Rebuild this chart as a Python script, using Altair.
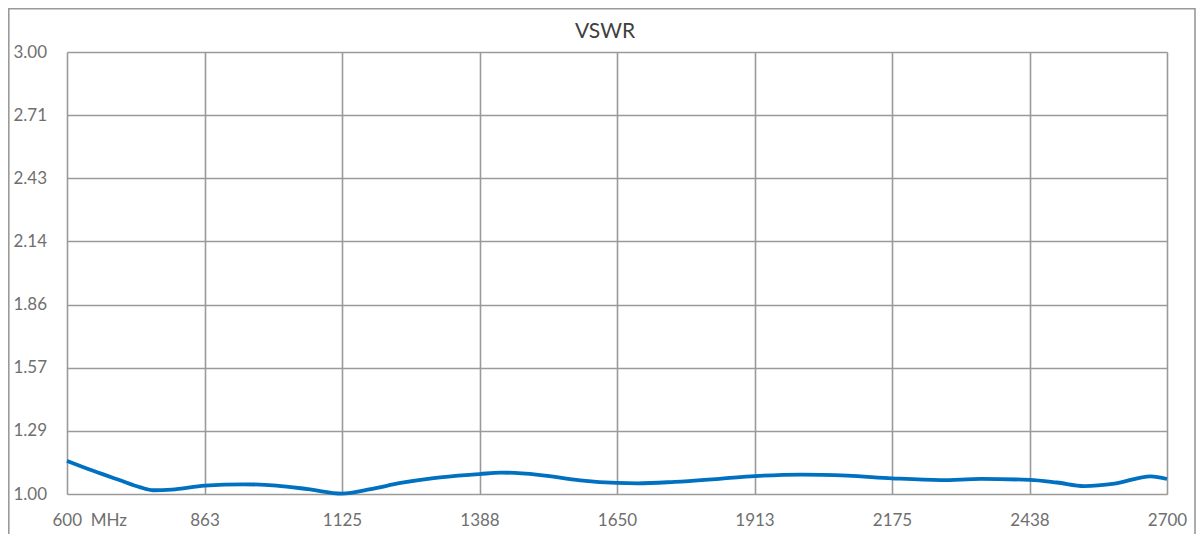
import altair as alt
import pandas as pd

# Frequency (MHz) and VSWR readings
freq = [600, 650, 700, 740, 765, 800, 863, 937, 1000, 1060, 1125, 1180, 1237, 1300,
        1388, 1428, 1500, 1580, 1650, 1689, 1760, 1850, 1913, 2001, 2090, 2175,
        2268, 2345, 2438, 2490, 2542, 2600, 2669, 2700]
vswr = [1.150, 1.105, 1.063, 1.030, 1.017, 1.020, 1.038, 1.044, 1.038, 1.022, 1.002, 1.022,
        1.050, 1.072, 1.090, 1.097, 1.087, 1.062, 1.050, 1.048, 1.055, 1.070, 1.081, 1.088,
        1.083, 1.071, 1.063, 1.068, 1.064, 1.052, 1.036, 1.047, 1.080, 1.068]

x_ticks = [600, 862.5, 1125, 1387.5, 1650, 1912.5, 2175, 2437.5, 2700]
y_ticks = [1.0, 1.2857, 1.5714, 1.8571, 2.1429, 2.4286, 2.7143, 3.0]
first_label = "600\u00a0\u00a0MHz"
title_text = "VSWR"

df = pd.DataFrame({"freq": freq, "vswr": vswr})

GRID = "#9a9a9a"
LABEL = "#6f6f6f"
FONT = "Lato"

line = alt.Chart(df).mark_line(
    color="#0070C0", strokeWidth=3.8, interpolate="monotone"
).encode(
    x=alt.X("freq:Q",
            scale=alt.Scale(domain=[600, 2700], nice=False, zero=False),
            axis=alt.Axis(values=x_ticks, title=None, grid=True, gridColor=GRID,
                          gridWidth=1.6, domain=False, ticks=False, tickSize=0,
                          labelPadding=18, labelFontSize=17, labelFont=FONT,
                          labelColor=LABEL,
                          labelExpr=f"datum.value == 600 ? '{first_label}' : format(datum.value, '.0f')",
                          labelAlign={"condition": {"test": "datum.value == 600", "value": "left"}, "value": "center"},
                          labelOffset={"condition": {"test": "datum.value == 600", "value": -15}, "value": 0},
                          labelOverlap=False, labelFlush=False)),
    y=alt.Y("vswr:Q",
            scale=alt.Scale(domain=[1, 3], nice=False, zero=False),
            axis=alt.Axis(values=y_ticks, title=None, grid=True, gridColor=GRID,
                          gridWidth=1.6, domain=False, ticks=False, tickSize=0,
                          format=".2f", labelPadding=54, labelAlign="left",
                          labelBaseline="middle",
                          labelFontSize=17, labelFont=FONT, labelColor=LABEL,
                          labelOverlap=False, labelFlush=False)),
)

one = pd.DataFrame({"t": [title_text]})

frame = alt.Chart(one).mark_rect(
    filled=False, stroke=GRID, strokeWidth=1.6
).encode(
    x=alt.value(-58.2), x2=alt.value(1128),
    y=alt.value(-43.2), y2=alt.value(560),
)

title = alt.Chart(one).mark_text(
    font=FONT, fontSize=21, color="#404040", align="center", baseline="alphabetic"
).encode(
    text="t:N", x=alt.value(538), y=alt.value(-14),
)

chart = alt.layer(frame, line, title).properties(
    width=1100,
    height=442,
    autosize=alt.AutoSizeParams(type="none"),
    padding={"left": 59, "top": 44, "right": 29, "bottom": 40},
).configure_view(
    stroke=GRID, strokeWidth=1.6
).configure(background="white")

chart.save("out.html", embed_options={"renderer": "svg", "actions": False})
